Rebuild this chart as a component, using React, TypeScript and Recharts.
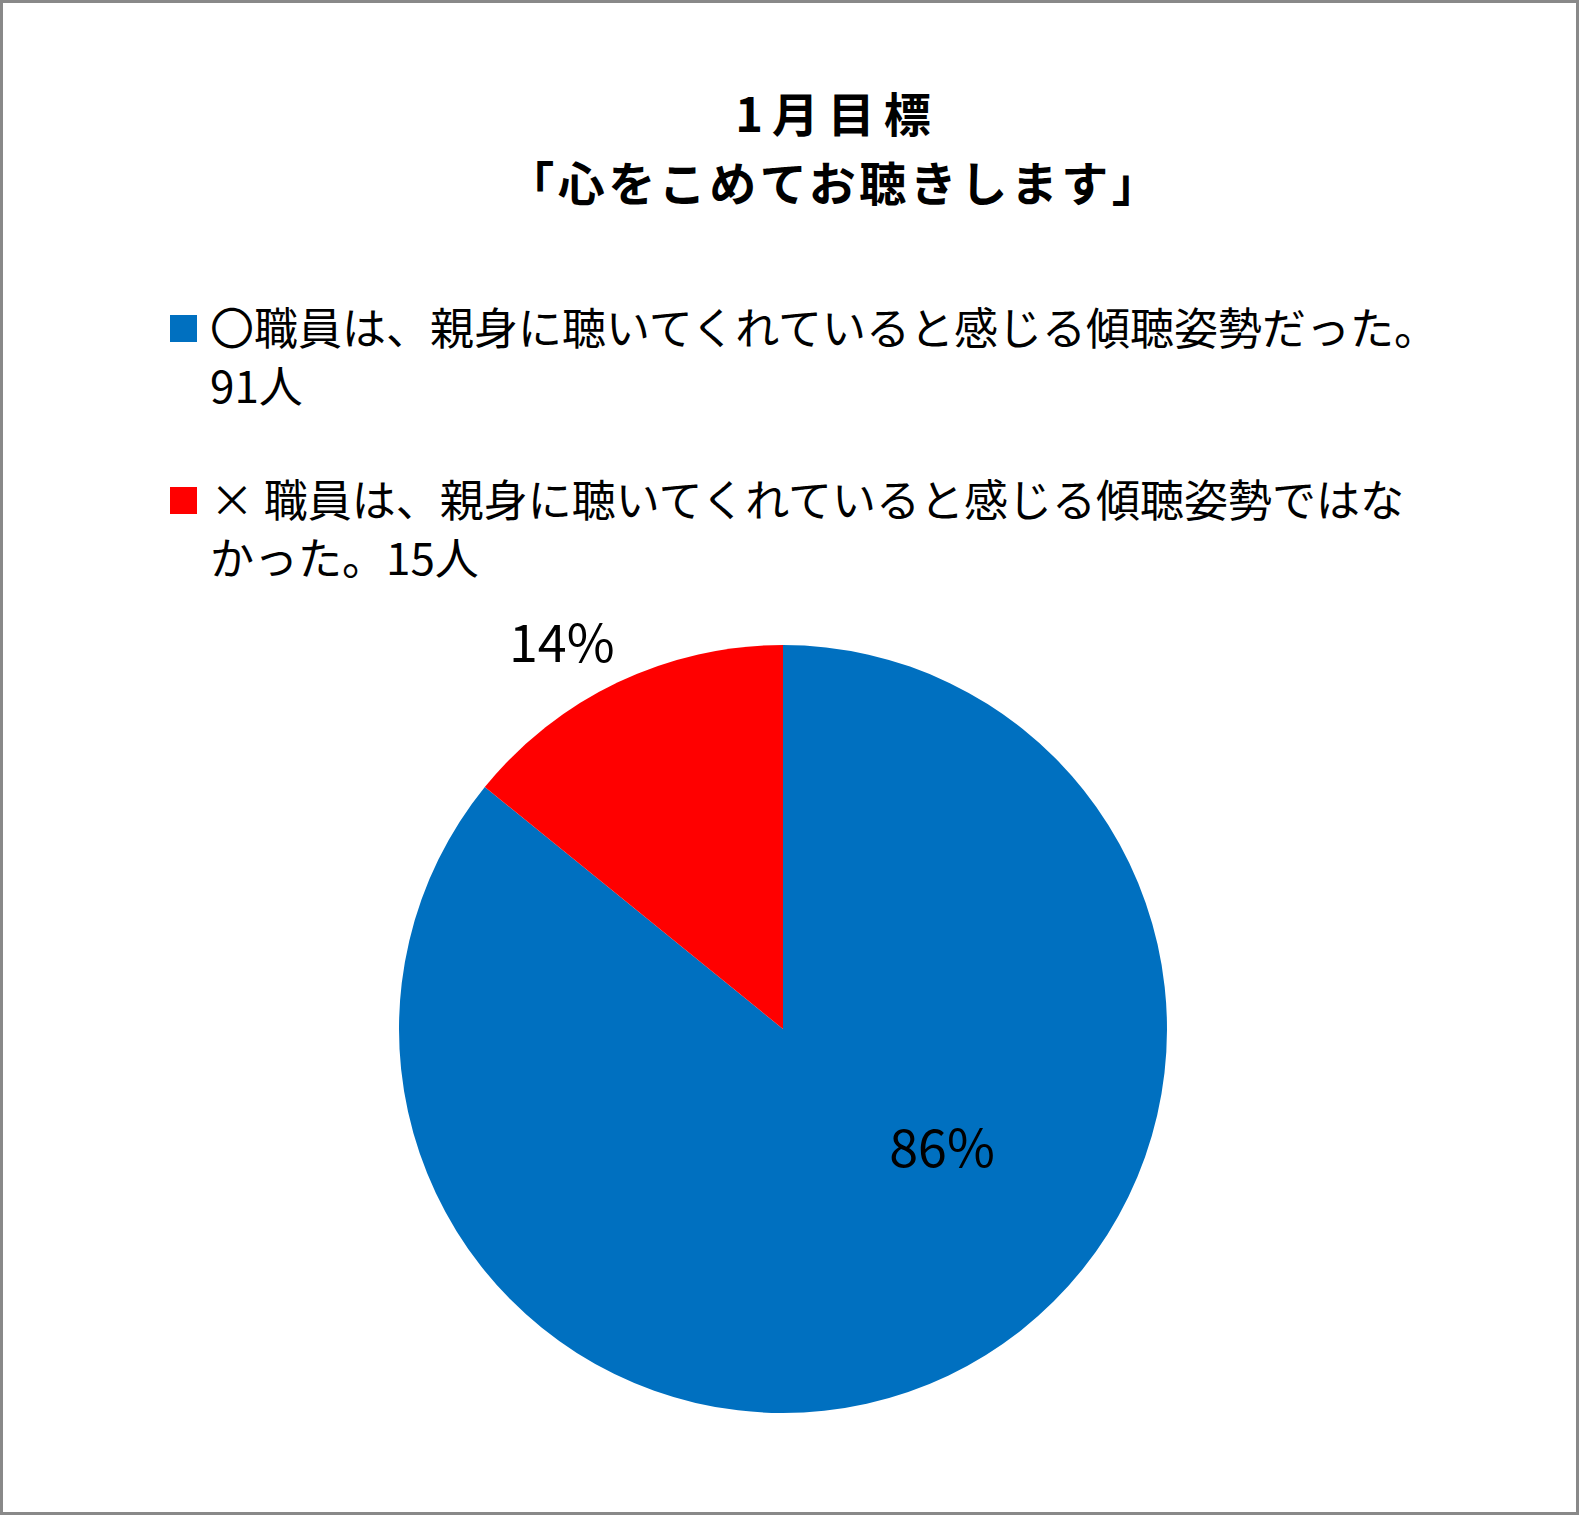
import React from 'react';
import { PieChart, Pie, Cell, Legend } from 'recharts';

const titleLines = ['1月目標', '「心をこめてお聴きします」'];
const categories = ['〇職員は、親身に聴いてくれていると感じる傾聴姿勢だった。91人', '×職員は、親身に聴いてくれていると感じる傾聴姿勢ではなかった。15人'];
const legendLines = [
  ['〇職員は、親身に聴いてくれていると感じる傾聴姿勢だった。', '91人'],
  ['× 職員は、親身に聴いてくれていると感じる傾聴姿勢ではな', 'かった。15人'],
];
const counts = [91, 15];
const colors = ['#0070C0', '#FF0000'];

const data = categories.map((name, i) => ({ name, value: counts[i] }));

// label placement relative to the pie centre, in units of the radius
const labelOffsets = [
  { dx: 0.414, dy: 0.3 },
  { dx: -0.576, dy: -1.015 },
];
const titleSpacing = [9, 3.5];

const FONT = '"Noto Sans CJK JP", "Noto Sans", sans-serif';

const renderLabel = (props: any) => {
  const { cx, cy, outerRadius, percent, index } = props;
  const o = labelOffsets[index];
  return (
    <text
      x={cx + o.dx * outerRadius}
      y={cy + o.dy * outerRadius}
      textAnchor="middle"
      dominantBaseline="central"
      fill="#000"
      fontSize={52}
      fontFamily={FONT}
    >
      {`${Math.round(percent * 100)}%`}
    </text>
  );
};

const renderLegend = (props: any) => {
  // keep the legend in the order of the data, not sorted
  const items = [...(props.payload || [])].sort(
    (a: any, b: any) => categories.indexOf(a.value) - categories.indexOf(b.value),
  );
  return (
    <div style={{ fontFamily: FONT, fontSize: 44, lineHeight: '58px', color: '#000', textAlign: 'left' }}>
      {items.map((entry: any, k: number) => {
        const i = Math.max(0, categories.indexOf(entry.value));
        return (
          <div key={k} style={{ position: 'relative', paddingLeft: 40, marginBottom: k === 0 ? 56 : 0 }}>
            <span
              style={{
                position: 'absolute',
                left: 0,
                top: 18,
                width: 27,
                height: 27,
                background: colors[i],
              }}
            />
            {legendLines[i].map((line, j) => (
              <div key={j} style={{ whiteSpace: 'nowrap' }}>{line}</div>
            ))}
          </div>
        );
      })}
    </div>
  );
};

export default function App() {
  return (
    <div style={{ position: 'absolute', left: 0, top: 0, width: 1579, height: 1515, background: '#fff' }}>
      <div
        style={{
          position: 'absolute',
          left: 333,
          top: 77,
          width: 1000,
          textAlign: 'center',
          fontFamily: FONT,
          fontWeight: 'bold',
          fontSize: 47,
          lineHeight: '69px',
          color: '#000',
        }}
      >
        {titleLines.map((t, i) => (
          <div key={i} style={{ letterSpacing: titleSpacing[i], paddingLeft: titleSpacing[i] }}>{t}</div>
        ))}
      </div>
      <PieChart width={1579} height={1515} margin={{ top: 0, right: 0, bottom: 0, left: 0 }}>
        <Legend
          layout="vertical"
          align="center"
          verticalAlign="middle"
          content={renderLegend}
          wrapperStyle={{ left: 170, top: 297, width: 1340 }}
        />
        <Pie
          data={data}
          dataKey="value"
          nameKey="name"
          cx={783}
          cy={1029}
          outerRadius={384}
          startAngle={90}
          endAngle={-270}
          stroke="none"
          label={renderLabel}
          labelLine={false}
          isAnimationActive={false}
        >
          {data.map((d, i) => (
            <Cell key={d.name} fill={colors[i]} />
          ))}
        </Pie>
      </PieChart>
      <div
        style={{
          position: 'absolute',
          left: 0,
          top: 0,
          width: 1579,
          height: 1515,
          boxSizing: 'border-box',
          border: '3px solid #898989',
          pointerEvents: 'none',
        }}
      />
    </div>
  );
}
